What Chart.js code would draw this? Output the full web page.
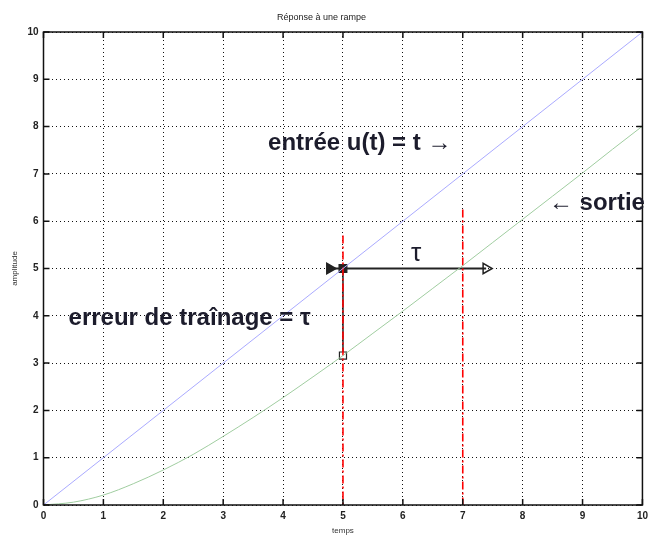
<!DOCTYPE html>
<html>
<head>
<meta charset="utf-8">
<script src="https://cdn.jsdelivr.net/npm/chart.js@4/dist/chart.umd.min.js"></script>
<style>
html,body{margin:0;padding:0;background:#fff;}
#wrap{width:653px;height:536px;}
</style>
</head>
<body>
<div id="wrap"><canvas id="c" width="653" height="536"></canvas></div>
<script>
// ---- data ----
const xTicks = [0,1,2,3,4,5,6,7,8,9,10];
const yTicks = [0,1,2,3,4,5,6,7,8,9,10];
const entreeT = [0, 10];
const entreeValues = [0, 10];
const sortieT = [0,0.5,1,1.5,2,2.5,3,3.5,4,4.5,5,5.5,6,6.5,7,7.5,8,8.5,9,9.5,10];
const sortieValues = [0,0.06,0.21,0.45,0.74,1.07,1.45,1.85,2.27,2.71,3.16,3.63,4.10,4.58,5.06,5.55,6.04,6.53,7.02,7.52,8.01];
const redLineT = [5, 7];
const redLineTop = [5.7, 6.25];
const arrowT = [4.78, 7.39];
const arrowLevel = 5;
const errorT = 5;
const errorValues = [5, 3.16];
const labels = [
  {text:'entrée u(t) = t →', x:5.28, y:7.65},
  {text:'← sortie', x:9.24, y:6.38},
  {text:'τ', x:6.22, y:5.3},
  {text:'erreur de traînage = τ', x:2.44, y:3.95}
];

const FONT = "'Liberation Sans', Arial, sans-serif";
const pts = (xs, ys) => xs.map((x,i)=>({x, y: ys[i]}));

const datasets = [
  {data: pts(entreeT, entreeValues), borderColor:'rgb(170,170,255)', borderWidth:1, pointRadius:0},
  {data: pts(sortieT, sortieValues), borderColor:'rgb(160,205,160)', borderWidth:1, pointRadius:0, cubicInterpolationMode:'monotone'}
];
redLineT.forEach((t,i)=>{
  datasets.push({data: pts([t,t],[redLineTop[i],0]), borderColor:'rgb(255,0,0)', borderWidth:1.6, borderDash:[8,3,2,3], pointRadius:0});
});
datasets.push({data: pts(arrowT,[arrowLevel,arrowLevel]), borderColor:'#222', borderWidth:2,
  pointStyle:'triangle', rotation:90, pointRadius:6, pointBorderColor:'#222',
  pointBackgroundColor:['#222','rgba(255,255,255,0)'], pointBorderWidth:1.5});
datasets.push({data: pts([errorT,errorT], errorValues), borderColor:'#222', borderWidth:1.5,
  pointStyle:'rect', pointRadius:[5.5,5], pointBorderColor:'#222', pointBackgroundColor:['#222','#fff'], pointBorderWidth:1.2});

const boxPlugin = {
  id:'boxPlugin',
  afterDatasetsDraw(chart){
    const {ctx, chartArea:a, scales:{x, y}} = chart;
    ctx.save();
    ctx.strokeStyle = '#111';
    ctx.lineWidth = 1.5;
    ctx.strokeRect(a.left, a.top, a.right-a.left, a.bottom-a.top);
    ctx.beginPath();
    xTicks.forEach(v=>{
      const px = x.getPixelForValue(v);
      ctx.moveTo(px, a.bottom); ctx.lineTo(px, a.bottom-6);
      ctx.moveTo(px, a.top); ctx.lineTo(px, a.top+6);
    });
    yTicks.forEach(v=>{
      const py = y.getPixelForValue(v);
      ctx.moveTo(a.left, py); ctx.lineTo(a.left+6, py);
      ctx.moveTo(a.right, py); ctx.lineTo(a.right-6, py);
    });
    ctx.stroke();
    ctx.fillStyle = '#1c1c2c';
    ctx.textAlign = 'center';
    ctx.textBaseline = 'middle';
    labels.forEach(l=>{
      ctx.font = (l.text==='τ' ? "26px " : "bold 24px ") + FONT;
      ctx.fillText(l.text, x.getPixelForValue(l.x), y.getPixelForValue(l.y));
    });
    ctx.restore();
  }
};

new Chart(document.getElementById('c'), {
  type:'line',
  data:{datasets},
  plugins:[boxPlugin],
  options:{
    responsive:false,
    animation:false,
    devicePixelRatio:1,
    layout:{padding:{left:0,right:10,top:0,bottom:0}},
    plugins:{
      legend:{display:false},
      tooltip:{enabled:false},
      title:{display:true, text:'Réponse à une rampe', color:'#222',
        font:{family:FONT, size:9, weight:'normal'}, padding:{top:12, bottom:9.2}}
    },
    scales:{
      x:{type:'linear', min:0, max:10,
        afterBuildTicks(s){ s.ticks = xTicks.map(v=>({value:v})); },
        afterFit(s){ s.height = 31; },
        grid:{color:'#111', lineWidth:1, drawTicks:false},
        border:{display:false, dash:[1,3]},
        ticks:{color:'#222', padding:5, maxRotation:0, font:{family:FONT, size:10, weight:'bold'}},
        title:{display:true, text:'temps', color:'#333', font:{family:FONT, size:8}, padding:{top:2,bottom:0}}
      },
      y:{type:'linear', min:0, max:10,
        afterBuildTicks(s){ s.ticks = yTicks.map(v=>({value:v})); },
        afterFit(s){ s.width = 43.5; },
        grid:{color:'#111', lineWidth:1, drawTicks:false},
        border:{display:false, dash:[1,3]},
        ticks:{color:'#222', padding:5, font:{family:FONT, size:10, weight:'bold'}},
        title:{display:true, text:'amplitude', color:'#333', font:{family:FONT, size:8}, padding:{top:10,bottom:0}}
      }
    }
  }
});
</script>
</body>
</html>
